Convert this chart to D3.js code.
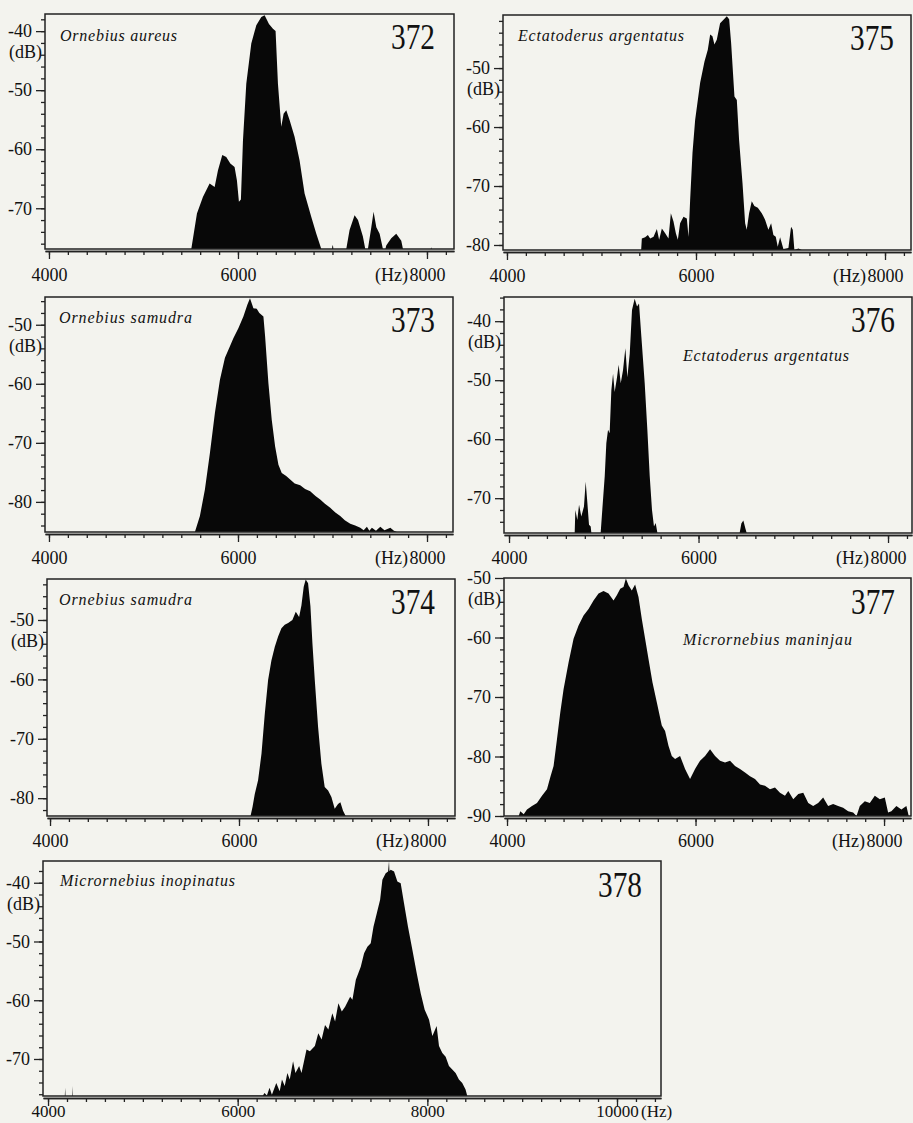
<!DOCTYPE html>
<html>
<head>
<meta charset="utf-8">
<script src="https://cdn.jsdelivr.net/npm/d3@7"></script>
<style>
  body { margin: 0; background: #f3f3ee; }
</style>
</head>
<body>
<svg id="fig" width="913" height="1123"></svg>
<script>
// ---- data (frequency in Hz, level in dB) ----
var freq372 = [5500,5506,5566,5629,5700,5753,5788,5834,5876,5919,5964,5989,6010,6031,6053,6088,6141,6194,6247,6282,6328,6370,6398,6423,6458,6483,6511,6547,6599,6652,6705,6776,6829,6882,6995,7000,7005,7010,7146,7181,7234,7270,7322,7347,7375,7411,7435,7464,7499,7534,7560,7569,7622,7675,7728,7746,8040,8045,8050];
var db372 = [-77,-77,-70.9,-68.1,-65.8,-66.4,-63.6,-61.0,-61.3,-62.4,-63.0,-65.3,-68.9,-68.5,-58.5,-48.9,-42.1,-39.0,-37.6,-37.3,-38.8,-39.6,-40.0,-48.9,-56.2,-54.0,-53.4,-55.1,-57.9,-61.9,-67.5,-71.5,-74.3,-77,-77,-76.3,-76.3,-77,-77,-73.7,-71.2,-72.0,-74.8,-77,-77,-73.2,-70.6,-73.2,-74.3,-77,-77,-76.3,-75.1,-74.3,-75.5,-77,-77,-76.6,-77];

var freq375 = [5420,5427,5462,5491,5515,5551,5586,5610,5639,5674,5709,5734,5762,5787,5808,5832,5868,5903,5921,5938,5963,5991,6044,6090,6125,6150,6174,6195,6220,6255,6291,6326,6351,6372,6407,6432,6456,6492,6520,6537,6562,6590,6618,6654,6696,6731,6766,6795,6819,6844,6865,6890,6925,6978,7006,7024,7041,7084,7119];
var db375 = [-81,-78.9,-78.7,-78.3,-78.9,-78.6,-77.3,-79.1,-77.2,-78.0,-78.9,-74.6,-76.0,-78.0,-79.1,-76.3,-75.2,-75.5,-78.6,-72.4,-64.4,-58.8,-52.5,-48.9,-46.9,-44.3,-44.6,-46.0,-45.2,-42.4,-41.8,-41.2,-41.7,-45.8,-54.8,-55.4,-62.2,-69.5,-76.3,-77.4,-74.6,-72.6,-73.4,-73.7,-74.6,-75.7,-77.4,-76.3,-78.3,-78.6,-80.3,-78.7,-80.7,-80.5,-76.9,-77.4,-80.9,-80.6,-81];

var freq373 = [5544,5597,5650,5703,5756,5809,5862,5908,5951,6004,6057,6099,6127,6163,6198,6226,6269,6287,6322,6357,6393,6428,6463,6510,6552,6600,6658,6710,6764,6820,6870,6920,6976,7030,7082,7130,7188,7240,7294,7330,7364,7390,7417,7460,7506,7550,7612,7650,7682];
var db373 = [-85.1,-82.4,-77.9,-71.7,-64.9,-59.3,-55.6,-53.9,-52.3,-50.6,-48.6,-46.6,-45.5,-47.2,-47.3,-48.0,-48.6,-52.0,-59.9,-66.1,-70.6,-73.7,-75.1,-75.6,-76.2,-76.9,-77.2,-77.8,-78.2,-79.0,-79.6,-80.3,-81.0,-81.8,-82.4,-83.1,-83.7,-84.0,-84.4,-84.8,-84.2,-84.9,-84.4,-84.9,-84.2,-84.8,-84.4,-84.9,-85.1];

var freq376 = [4693,4700,4721,4739,4763,4791,4809,4827,4844,4862,4869,4967,4982,5010,5027,5045,5062,5080,5098,5115,5140,5157,5179,5203,5228,5249,5274,5298,5326,5351,5372,5397,5432,5460,5485,5509,5530,5548,5566,6434,6452,6473,6494,6508];
var db376 = [-75.9,-72.0,-73.7,-71.1,-73.1,-71.4,-67.2,-70.8,-74.5,-74.8,-75.9,-75.9,-72.5,-66.3,-60.7,-58.4,-59.0,-51.7,-48.9,-52.0,-49.5,-47.4,-50.5,-48.3,-44.6,-49.5,-45.5,-38.1,-36.2,-37.5,-37.0,-42.7,-50.5,-58.4,-66.3,-72.0,-74.8,-74.2,-75.9,-75.9,-74.3,-73.8,-75.1,-75.9];

var freq374 = [6122,6143,6167,6202,6238,6273,6308,6343,6379,6414,6449,6484,6520,6565,6601,6636,6661,6685,6706,6731,6756,6777,6802,6837,6872,6907,6943,6978,7013,7048,7073,7101,7129];
var db374 = [-83.1,-81.5,-79.3,-77.0,-72.5,-65.8,-60.1,-56.8,-54.5,-52.8,-51.4,-50.8,-50.5,-50.0,-48.6,-49.5,-47.5,-44.4,-43.2,-43.8,-47.7,-53.9,-60.1,-68.0,-74.2,-78.1,-78.7,-79.8,-81.8,-81.0,-80.7,-82.1,-83.1];

var freq377 = [4124,4141,4177,4212,4265,4318,4371,4424,4459,4494,4530,4565,4600,4653,4706,4759,4812,4865,4918,4971,5024,5077,5130,5165,5201,5236,5261,5289,5324,5359,5395,5430,5465,5501,5543,5589,5642,5677,5713,5748,5783,5836,5889,5942,5995,6048,6101,6154,6207,6260,6313,6366,6419,6472,6525,6578,6631,6684,6737,6790,6843,6896,6949,6984,7037,7090,7143,7196,7248,7301,7354,7407,7460,7513,7566,7619,7672,7708,7743,7796,7849,7902,7955,8008,8043,8078,8131,8184,8237,8262];
var db377 = [-90.0,-89.2,-89.7,-88.9,-88.3,-87.8,-86.6,-85.5,-83.5,-81.6,-77.1,-72.6,-68.7,-64.2,-60.2,-58.0,-56.3,-55.2,-53.8,-52.6,-52.2,-52.6,-53.8,-52.9,-51.8,-51.5,-50.1,-51.2,-52.1,-51.1,-53.2,-56.9,-60.2,-63.6,-67.5,-70.9,-74.8,-75.7,-78.2,-79.9,-80.4,-79.9,-82.1,-83.8,-82.1,-80.7,-79.9,-78.8,-79.9,-80.7,-81.0,-80.7,-81.6,-82.1,-82.7,-83.3,-83.8,-84.7,-84.9,-85.5,-85.2,-86.1,-86.6,-85.8,-87.2,-86.3,-86.1,-87.8,-88.3,-87.8,-86.9,-88.3,-88.0,-88.3,-88.6,-89.2,-89.4,-90.0,-88.3,-87.5,-87.8,-86.6,-87.2,-86.9,-89.4,-89.2,-88.3,-88.9,-88.3,-90.0];

var freq378 = [4177,4181,4184,4255,4258,4261,6266,6283,6308,6336,6361,6407,6443,6467,6496,6524,6549,6584,6609,6648,6673,6726,6761,6814,6850,6885,6921,6956,6998,7027,7062,7098,7133,7186,7210,7246,7298,7333,7368,7403,7432,7467,7502,7526,7561,7586,7596,7600,7614,7649,7684,7719,7754,7796,7842,7888,7930,7972,8018,8053,8098,8123,8158,8193,8228,8263,8298,8333,8368,8403,8421];
var db378 = [-76.3,-74.9,-76.3,-76.3,-74.6,-76.3,-76.2,-75.8,-76.2,-74.9,-76.1,-74.1,-75.5,-73.5,-74.6,-72.4,-73.5,-70.4,-72.4,-71.2,-72.4,-68.4,-68.7,-67.8,-65.6,-66.7,-64.2,-65.0,-62.2,-63.6,-60.5,-61.9,-61.1,-59.4,-59.9,-56.5,-54.3,-52.0,-50.9,-50.3,-47.5,-45.2,-42.9,-39.5,-38.4,-38.1,-36.3,-38.0,-37.8,-38.1,-39.8,-40.1,-43.5,-47.5,-51.4,-55.4,-58.8,-61.6,-63.3,-66.1,-64.4,-67.8,-69.0,-69.6,-71.2,-71.8,-72.4,-73.5,-74.1,-75.2,-76.3];

var figNumbers = ["372", "375", "373", "376", "374", "377", "378"];
var species = ["Ornebius aureus", "Ectatoderus argentatus", "Ornebius samudra", "Ectatoderus argentatus",
               "Ornebius samudra", "Micrornebius maninjau", "Micrornebius inopinatus"];
var xTickLabels = [4000, 6000, 8000];
var xTickLabels378 = [4000, 6000, 8000, 10000];
var yTicks40 = [-40, -50, -60, -70];
var yTicks50 = [-50, -60, -70, -80];
var yTicks90 = [-50, -60, -70, -80, -90];

var SERIF = "'Liberation Serif', Tinos, 'Times New Roman', 'DejaVu Serif', serif";

// ---- layout of the seven panels ----
var panels = [
  {f: freq372, db: db372, box: [45, 14, 409, 235],  xd: [3958, 8286],  yd: [-37.1, -76.9], yt: yTicks40, xt: xTickLabels,
   name: [15, 27, 117], num: [19, 35], lab: 30},
  {f: freq375, db: db375, box: [503, 15, 408, 235], xd: [3958, 8275],  yd: [-41.0, -80.85], yt: yTicks50, xt: xTickLabels,
   name: [15, 26, 166], num: [17, 35], lab: 30},
  {f: freq373, db: db373, box: [45, 297, 408, 235], xd: [3958, 8275],  yd: [-45.3, -85.1], yt: yTicks50, xt: xTickLabels,
   name: [14, 26, 133], num: [18, 35], lab: 30},
  {f: freq376, db: db376, box: [504, 297, 408, 236], xd: [3947, 8253], yd: [-35.9, -75.9], yt: yTicks40, xt: xTickLabels,
   name: [179, 64, 166], num: [17, 35], lab: 29},
  {f: freq374, db: db374, box: [47, 579, 408, 237], xd: [3968, 8286],  yd: [-43.1, -83.0], yt: yTicks50, xt: xTickLabels,
   name: [12, 26, 133], num: [20, 35], lab: 29},
  {f: freq377, db: db377, box: [504, 578, 407, 238], xd: [3968, 8286], yd: [-50, -90], yt: yTicks90, xt: xTickLabels,
   name: [179, 67, 169], num: [16, 36], lab: 29},
  {f: freq378, db: db378, box: [43, 861, 618, 235], xd: [3947, 10464], yd: [-36.3, -76.3], yt: yTicks40, xt: xTickLabels378,
   name: [17, 25, 175], num: [19, 36], lab: 19}
];

var svg = d3.select("#fig");

panels.forEach(function(p, i) {
  var bx = p.box[0], by = p.box[1], bw = p.box[2], bh = p.box[3];

  var x = d3.scaleLinear().domain(p.xd).range([bx, bx + bw]);
  var y = d3.scaleLinear().domain(p.yd).range([by, by + bh]).clamp(true);

  var g = svg.append("g");

  g.append("clipPath").attr("id", "clip" + i)
    .append("rect").attr("x", bx).attr("y", by).attr("width", bw).attr("height", bh);

  // spectrum, filled down to the bottom of the frame
  var pts = p.f.map(function(f, j) { return [f, p.db[j]]; });
  var area = d3.area()
    .x(function(d) { return x(d[0]); })
    .y0(y(p.yd[1]))
    .y1(function(d) { return y(d[1]); });

  g.append("path")
    .datum(pts)
    .attr("d", area)
    .attr("fill", "#080808")
    .attr("clip-path", "url(#clip" + i + ")");

  // frame
  g.append("rect")
    .attr("x", bx).attr("y", by).attr("width", bw).attr("height", bh)
    .attr("fill", "none").attr("stroke", "#222").attr("stroke-width", 1.5);

  // x axis: major + minor ticks
  var axisY = by + bh + 2;
  var xMinor = d3.range(Math.ceil(p.xd[0] / 200) * 200, p.xd[1], 200);
  var xa = g.append("g").attr("transform", "translate(0," + axisY + ")");
  xa.call(d3.axisBottom(x).tickValues(xMinor).tickSize(4).tickSizeOuter(0).tickFormat(""));
  xa.append("g").call(d3.axisBottom(x).tickValues(p.xt).tickSize(8).tickSizeOuter(0)
      .tickFormat(d3.format("d")));
  xa.selectAll("path.domain").attr("stroke", "#222").attr("stroke-width", 1.3);
  xa.selectAll("line").attr("stroke", "#222").attr("stroke-width", 1.3);
  xa.selectAll("text")
    .attr("y", p.lab).attr("dy", null)
    .style("font-family", SERIF).style("font-size", i === 6 ? "17px" : "18px").attr("fill", "#111");

  var lastX = p.xt[p.xt.length - 1];
  var hz = g.append("text")
    .attr("y", axisY + p.lab)
    .style("font-family", SERIF)
    .style("font-size", i === 6 ? "17px" : "18px")
    .attr("fill", "#111")
    .text("(Hz)");
  if (lastX === 8000) {
    hz.attr("x", x(lastX) - 19).attr("text-anchor", "end");
  } else {
    hz.attr("x", x(lastX) + 24).attr("text-anchor", "start");
  }

  // y axis: major + minor ticks
  var yMinor = d3.range(Math.ceil(p.yd[1] / 2) * 2, p.yd[0], 2);
  var ya = g.append("g").attr("transform", "translate(" + bx + ",0)");
  ya.call(d3.axisLeft(y).tickValues(yMinor).tickSize(4).tickSizeOuter(0).tickFormat(""));
  ya.append("g").call(d3.axisLeft(y).tickValues(p.yt).tickSize(9).tickSizeOuter(0).tickPadding(4)
      .tickFormat(function(d) { return String(d); }));
  ya.selectAll("path.domain").attr("stroke", "none");
  ya.selectAll("line").attr("stroke", "#222").attr("stroke-width", 1.3);
  ya.selectAll("text").style("font-family", SERIF).style("font-size", "18px").attr("fill", "#111");

  g.append("text")
    .attr("x", bx - 3)
    .attr("y", y(p.yt[0]) + 27)
    .attr("text-anchor", "end")
    .style("font-family", SERIF)
    .style("font-size", "18px")
    .attr("fill", "#111")
    .text("(dB)");

  // species name and figure number
  g.append("text")
    .attr("x", bx + p.name[0])
    .attr("y", by + p.name[1])
    .attr("textLength", p.name[2])
    .attr("lengthAdjust", "spacing")
    .style("font-family", SERIF)
    .style("font-size", "16px")
    .style("font-style", "italic")
    .attr("fill", "#111")
    .text(species[i]);

  g.append("text")
    .attr("x", bx + bw - p.num[0])
    .attr("y", by + p.num[1])
    .attr("text-anchor", "end")
    .attr("textLength", 44)
    .attr("lengthAdjust", "spacingAndGlyphs")
    .style("font-family", SERIF)
    .style("font-size", "36px")
    .attr("fill", "#111")
    .text(figNumbers[i]);
});
</script>
</body>
</html>
